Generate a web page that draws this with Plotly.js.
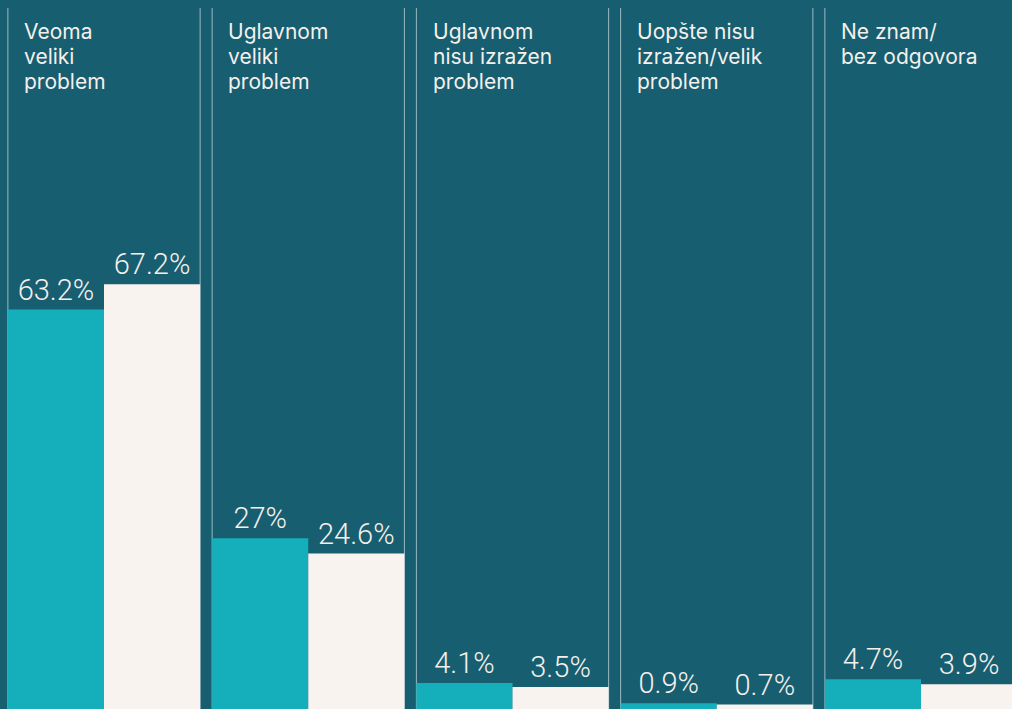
<!DOCTYPE html>
<html>
<head>
<meta charset="utf-8">
<script src="https://cdn.plot.ly/plotly-3.0.1.min.js"></script>
<style>
  html, body { margin: 0; padding: 0; background: #175E71; overflow: hidden; }
  #chart { width: 1012px; height: 709px; }
</style>
</head>
<body>
<div id="chart"></div>
<script>
// ---- data ----
const categories = [
  'Veoma veliki problem',
  'Uglavnom veliki problem',
  'Uglavnom nisu izražen problem',
  'Uopšte nisu izražen/velik problem',
  'Ne znam/ bez odgovora'
];
const categoryLabels = [
  'Veoma<br>veliki<br>problem',
  'Uglavnom<br>veliki<br>problem',
  'Uglavnom<br>nisu izražen<br>problem',
  'Uopšte nisu<br>izražen/velik<br>problem',
  'Ne znam/<br>bez odgovora'
];
const seriesA = [63.2, 27, 4.1, 0.9, 4.7];
const seriesB = [67.2, 24.6, 3.5, 0.7, 3.9];

// ---- style ----
const BG = '#175E71';
const TEAL = '#14AFBA';
const CREAM = '#F8F3EF';
const TEXT = '#F4F0EB';
const LINE = '#9DBAC3';

const W = 1012, H = 709;
const catPx = 204.25;          // pixels per category
const firstCenterPx = 104;     // pixel center of first category
const bargapPx = 12;
const bargap = bargapPx / catPx;
const halfGroup = (1 - bargap) / 2;
const xMin = -firstCenterPx / catPx;
const xMax = xMin + W / catPx;
const pxPerUnit = 6.32;
const yMax = H / pxPerUnit;
const labelLineGap = 25;

const fmt = v => v + '%';
const valueFont = { family: 'Roboto', size: 29, color: TEXT, weight: 300 };

const traces = [
  {
    type: 'bar', name: 'A', x: categories, y: seriesA,
    marker: { color: TEAL },
    text: seriesA.map(fmt), textposition: 'outside',
    textfont: valueFont, constraintext: 'none',
    cliponaxis: false, hoverinfo: 'x+y'
  },
  {
    type: 'bar', name: 'B', x: categories, y: seriesB,
    marker: { color: CREAM },
    text: seriesB.map(fmt), textposition: 'outside',
    textfont: valueFont, constraintext: 'none',
    cliponaxis: false, hoverinfo: 'x+y'
  }
];

const shapes = [];
categories.forEach((c, i) => {
  [i - halfGroup, i + halfGroup].forEach(xv => {
    shapes.push({
      type: 'line', xref: 'x', yref: 'paper',
      x0: xv, x1: xv, y0: 0, y1: 1 - 8 / H,
      line: { color: LINE, width: 1 }, layer: 'below'
    });
  });
});

const annotations = [];
categories.forEach((c, i) => {
  categoryLabels[i].split('<br>').forEach((line, j) => {
    annotations.push({
      x: c, xref: 'x', y: 1 - 17 / H, yref: 'paper',
      xanchor: 'left', yanchor: 'top', align: 'left',
      xshift: -82, yshift: -j * labelLineGap, showarrow: false,
      text: line,
      font: { family: 'Inter', size: 21, color: TEXT }
    });
  });
});

const layout = {
  width: W, height: H,
  margin: { l: 0, r: 0, t: 0, b: 0, pad: 0 },
  paper_bgcolor: BG, plot_bgcolor: BG,
  barmode: 'group', bargap: bargap, bargroupgap: 0,
  showlegend: false,
  xaxis: {
    type: 'category', range: [xMin, xMax],
    showticklabels: false, showgrid: false, zeroline: false, showline: false, ticks: ''
  },
  yaxis: {
    range: [0, yMax],
    showticklabels: false, showgrid: false, zeroline: false, showline: false, ticks: ''
  },
  shapes: shapes,
  annotations: annotations
};

Plotly.newPlot('chart', traces, layout, { displayModeBar: false, staticPlot: true });
</script>
</body>
</html>
